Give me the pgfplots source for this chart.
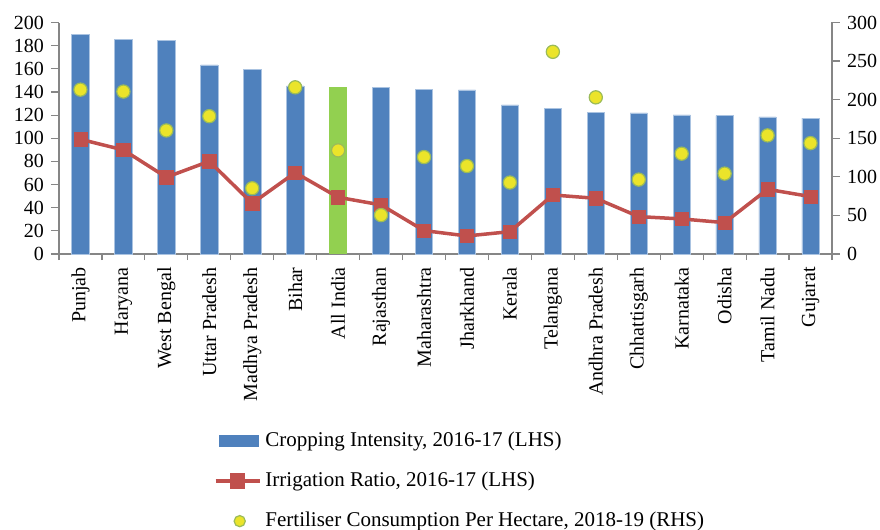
\documentclass[border=0pt]{standalone}
\usepackage{pgfplots}
\pgfplotsset{compat=1.18}
\usepackage{fontspec}
\setmainfont{Liberation Serif}
\definecolor{barblue}{RGB}{79,129,189}
\definecolor{baredge}{RGB}{170,195,225}
\definecolor{bargreen}{RGB}{146,208,80}
\definecolor{linered}{RGB}{192,80,77}
\definecolor{dotyellow}{RGB}{235,228,42}
\definecolor{dotedge}{RGB}{155,187,89}
\definecolor{axgray}{RGB}{134,134,134}
\begin{document}
\begin{tikzpicture}
\pgfplotsset{
  common/.style={
    scale only axis, width=386.5pt, height=115.75pt,
    xmin=-0.5, xmax=17.5,
    /pgf/number format/assume math mode=true,
    tick label style={font=\fontsize{10}{12}\selectfont, text=black},
    axis line style={draw=axgray, line width=0.6pt},
    tick style={draw=axgray, line width=0.6pt},
    tick align=outside,
  }
}
\begin{axis}[common,
  axis x line*=bottom, axis y line*=left,
  ymin=0, ymax=200, ytick={0,20,...,200},
  major tick length=4pt,
  xtick={0,...,17},
  major x tick style={draw=none},
  minor xtick={-0.5,0.5,...,17.5},
  minor x tick style={draw=axgray, line width=0.6pt},
  minor tick length=3pt,
  xticklabels={Punjab,Haryana,West Bengal,Uttar Pradesh,Madhya Pradesh,Bihar,All India,Rajasthan,Maharashtra,Jharkhand,Kerala,Telangana,Andhra Pradesh,Chhattisgarh,Karnataka,Odisha,Tamil Nadu,Gujarat},
  xticklabel style={rotate=90, anchor=east, inner sep=0pt, xshift=-2.5pt},
  legend style={draw=none, fill=none, at={(rel axis cs:0.2,-0.75)}, anchor=north west,
    font=\fontsize{10.5}{12}\selectfont, row sep=7.3pt, inner sep=0pt, cells={anchor=west}},
  legend cell align=left,
]
\addplot[ybar, bar width=8.65pt, bar shift=0pt, fill=barblue, draw=baredge, line width=0.3pt,
  legend image code/.code={\fill[barblue] (2pt,-2.6pt) rectangle (21.5pt,2.6pt);}]
  coordinates {(0,189.7) (1,185.3) (2,184.2) (3,163.4) (4,159.7) (5,145.2) (7,143.8) (8,142.4) (9,141.8) (10,128.8) (11,126) (12,122.5) (13,121.9) (14,120.2) (15,119.6) (16,118.4) (17,117.3)};
\addlegendentry{Cropping Intensity, 2016-17 (LHS)}
\addplot[ybar, bar width=8.65pt, bar shift=0pt, fill=bargreen, draw=none, forget plot]
  coordinates {(6,144.4)};
\addplot[linered, line width=1.75pt, mark=square*, mark size=3.3pt, mark options={solid, fill=linered, draw=linered, line width=0.3pt},
  legend image code/.code={\draw[linered, line width=1.75pt] (0pt,0pt) -- (22pt,0pt); \fill[linered] (8pt,-3pt) rectangle (14pt,3pt);}]
  coordinates {(0,99.1) (1,89.9) (2,66.3) (3,80.1) (4,43.8) (5,70.3) (6,49) (7,42.4) (8,20.2) (9,15.6) (10,19.3) (11,51) (12,48.1) (13,32.3) (14,30.3) (15,27.1) (16,55.9) (17,49.6)};
\addlegendentry{Irrigation Ratio, 2016-17 (LHS)}
\addlegendimage{legend image code/.code={\filldraw[fill=dotyellow, draw=dotedge, line width=0.6pt] (12pt,0pt) circle (2.8pt);}}
\addlegendentry{Fertiliser Consumption Per Hectare, 2018-19 (RHS)}
\coordinate (bbl) at (rel axis cs:-0.0763,-1.1922);
\coordinate (btr) at (rel axis cs:1.0621,1.0972);
\end{axis}
\begin{axis}[common,
  axis x line=none, axis y line*=right,
  ymin=0, ymax=300, ytick={0,50,...,300},
  major tick length=4pt,
]
\addplot[only marks, mark=*, mark size=3.3pt, mark options={fill=dotyellow, draw=dotedge, line width=0.6pt}]
  coordinates {(0,213) (1,210.5) (2,160.1) (3,178.6) (4,85.2) (5,216) (6,134.3) (7,50.4) (8,125.6) (9,114) (10,92.6) (11,262) (12,203) (13,96.4) (14,130) (15,104.2) (16,153.7) (17,143.7)};
\end{axis}
\pgfresetboundingbox
\path (bbl) rectangle (btr);
\end{tikzpicture}
\end{document}
